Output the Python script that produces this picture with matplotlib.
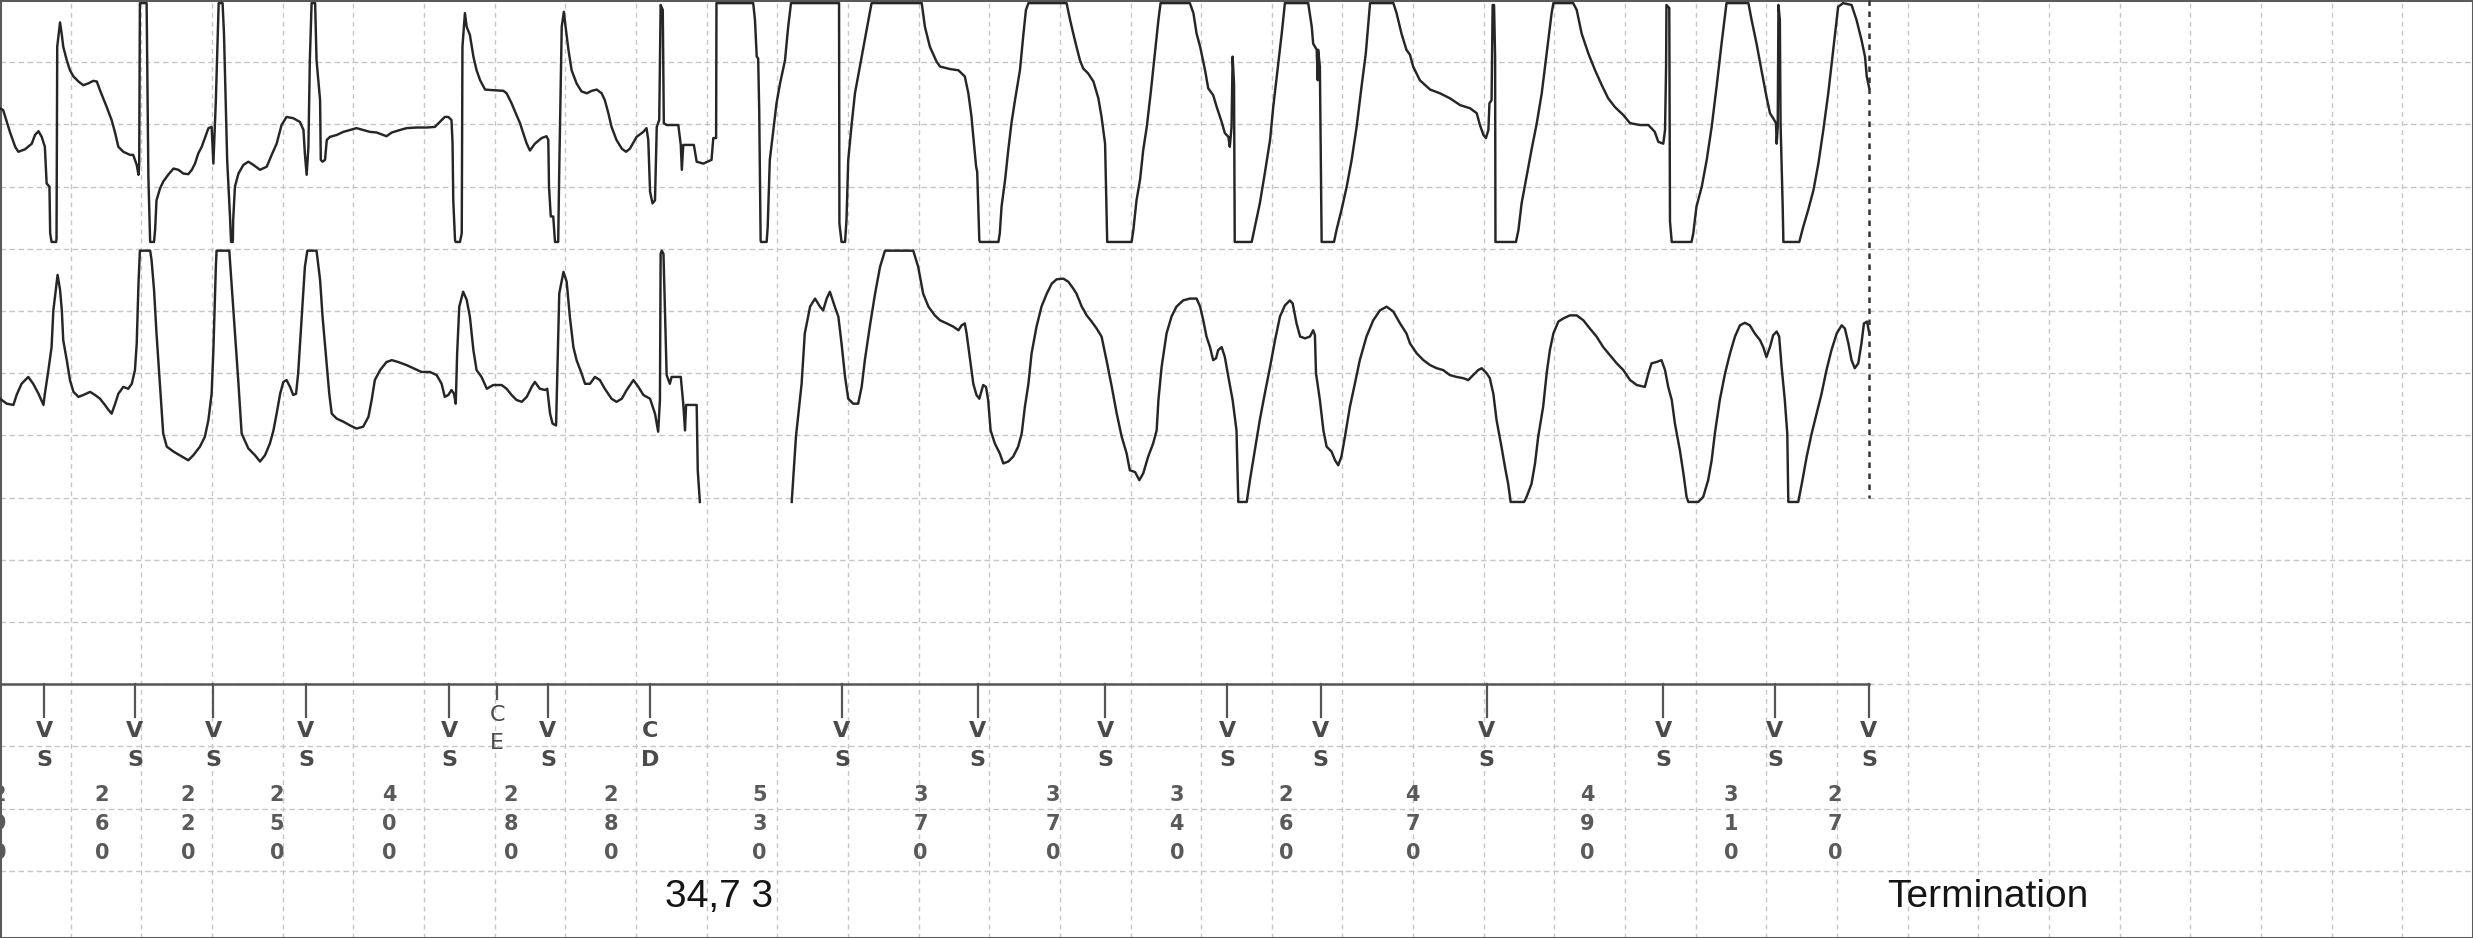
import numpy as np
import matplotlib
matplotlib.use("Agg")
import matplotlib.pyplot as plt

# stored ICD episode: two EGM channels + marker channel
# time in ms (200 ms per grid division), amplitude in grid divisions (positive up)
MS_PER_DIV = 200

EGM1_T = [0, 9, 28, 43, 52, 71, 90, 99, 109, 118, 127, 132, 140, 142, 146, 159, 160, 162, 170, 175,
          179, 189, 198, 208, 222, 236, 250, 264, 274, 283, 302, 316, 326, 335, 349, 368, 377, 382, 387, 392,
          394, 396, 415, 420, 425, 436, 439, 443, 453, 462, 476, 491, 505, 519, 533, 543, 552, 561, 571, 580,
          590, 599, 604, 611, 619, 630, 634, 643, 651, 654, 659, 660, 665, 675, 689, 703, 717, 736, 755, 769,
          783, 797, 811, 830, 849, 859, 863, 868, 873, 877, 882, 892, 896, 906, 908, 913, 920, 925, 934, 953,
          972, 991, 1009, 1028, 1047, 1066, 1085, 1094, 1109, 1132, 1151, 1179, 1208, 1231, 1245, 1259, 1269, 1278, 1281, 1283,
          1288, 1290, 1302, 1307, 1309, 1316, 1321, 1330, 1340, 1349, 1359, 1373, 1396, 1425, 1434, 1448, 1462, 1472, 1481, 1491,
          1500, 1514, 1533, 1547, 1552, 1554, 1559, 1566, 1571, 1580, 1583, 1590, 1596, 1602, 1609, 1618, 1632, 1646, 1661, 1675,
          1689, 1703, 1712, 1722, 1731, 1745, 1760, 1772, 1783, 1802, 1821, 1830, 1835, 1840, 1847, 1854, 1859, 1866, 1870, 1876,
          1879, 1887, 1920, 1927, 1930, 1934, 1964, 1972, 1991, 2014, 2019, 2027, 2028, 2132, 2137, 2142, 2146, 2149, 2153, 2154,
          2170, 2173, 2179, 2189, 2198, 2208, 2222, 2231, 2239, 2375, 2376, 2382, 2392, 2396, 2401, 2411, 2420, 2434, 2448, 2467,
          2609, 2618, 2632, 2651, 2661, 2689, 2713, 2731, 2741, 2750, 2755, 2763, 2766, 2772, 2774, 2826, 2830, 2835, 2845, 2854,
          2863, 2873, 2887, 2897, 2904, 2911, 3019, 3029, 3038, 3047, 3057, 3066, 3080, 3095, 3109, 3118, 3128, 3132, 3134, 3203,
          3208, 3217, 3227, 3236, 3246, 3257, 3269, 3279, 3285, 3368, 3378, 3387, 3397, 3411, 3420, 3434, 3444, 3458, 3467, 3477,
          3481, 3486, 3489, 3493, 3495, 3543, 3552, 3566, 3580, 3595, 3604, 3615, 3628, 3637, 3703, 3713, 3717, 3727, 3730, 3731,
          3736, 3741, 3776, 3783, 3797, 3812, 3826, 3840, 3854, 3866, 3878, 3944, 3953, 3967, 3981, 3991, 4000, 4019, 4048, 4076,
          4104, 4133, 4161, 4180, 4189, 4199, 4206, 4213, 4216, 4222, 4225, 4229, 4232, 4233, 4291, 4298, 4307, 4321, 4335, 4350,
          4364, 4378, 4392, 4397, 4453, 4463, 4477, 4496, 4515, 4534, 4552, 4571, 4595, 4614, 4642, 4666, 4684, 4694, 4708, 4713,
          4716, 4717, 4725, 4727, 4732, 4788, 4793, 4802, 4817, 4831, 4845, 4859, 4873, 4887, 4949, 4958, 4972, 4986, 5000, 5010,
          5019, 5027, 5029, 5032, 5034, 5038, 5040, 5046, 5048, 5093, 5104, 5118, 5133, 5147, 5161, 5175, 5189, 5203, 5217, 5241,
          5255, 5269, 5279, 5284, 5291]
EGM1_A = [0.23, 0.20, -0.15, -0.39, -0.47, -0.43, -0.34, -0.20, -0.14, -0.23, -0.39, -0.98, -1.03, -1.78, -1.92, -1.92, -1.86, 1.22, 1.61, 1.41,
          1.22, 1.00, 0.84, 0.74, 0.66, 0.60, 0.63, 0.67, 0.66, 0.52, 0.25, 0.04, -0.17, -0.39, -0.47, -0.52, -0.52, -0.60, -0.68, -0.84,
          -0.66, 1.92, 1.92, -0.87, -1.92, -1.92, -1.73, -1.25, -1.06, -0.95, -0.84, -0.74, -0.76, -0.82, -0.83, -0.76, -0.66, -0.50, -0.39, -0.25,
          -0.09, -0.07, -0.66, 0.36, 1.92, 1.92, 1.43, -0.60, -1.51, -1.92, -1.92, -1.57, -1.03, -0.82, -0.68, -0.63, -0.68, -0.76, -0.71, -0.52,
          -0.34, -0.04, 0.09, 0.07, 0.01, -0.12, -0.50, -0.84, -0.39, 1.00, 1.92, 1.92, 1.00, 0.36, -0.60, -0.63, -0.60, -0.28, -0.23, -0.20,
          -0.15, -0.12, -0.09, -0.12, -0.15, -0.16, -0.20, -0.22, -0.16, -0.12, -0.09, -0.08, -0.08, -0.07, 0.01, 0.09, 0.09, 0.04, -0.34, -1.25,
          -1.89, -1.92, -1.92, -1.78, 1.22, 1.76, 1.54, 1.41, 1.06, 0.84, 0.68, 0.53, 0.52, 0.51, 0.47, 0.31, 0.12, -0.01, -0.17, -0.34,
          -0.45, -0.34, -0.25, -0.22, -0.28, -1.03, -1.51, -1.51, -1.92, -1.92, -0.76, 1.54, 1.78, 1.49, 1.17, 0.84, 0.63, 0.50, 0.47, 0.51,
          0.53, 0.47, 0.36, 0.15, -0.07, -0.28, -0.42, -0.47, -0.42, -0.23, -0.15, -0.09, -0.28, -1.11, -1.30, -1.25, -0.07, 0.04, 1.89, 1.81,
          -0.01, -0.04, -0.04, -0.36, -0.76, -0.36, -0.36, -0.63, -0.66, -0.60, -0.25, -0.25, 1.92, 1.92, 1.65, 1.06, 1.03, 0.20, -1.89, -1.92,
          -1.92, -1.68, -0.60, -0.12, 0.31, 0.63, 1.00, 1.54, 1.92, 1.92, -1.62, -1.92, -1.92, -1.57, -0.60, -0.01, 0.47, 0.90, 1.33, 1.92,
          1.92, 1.54, 1.22, 0.98, 0.90, 0.86, 0.84, 0.74, 0.47, 0.09, -0.23, -0.71, -0.79, -1.89, -1.92, -1.92, -1.78, -1.35, -0.92, -0.44,
          -0.01, 0.36, 0.84, 1.43, 1.81, 1.92, 1.92, 1.65, 1.43, 1.22, 1.00, 0.87, 0.79, 0.66, 0.39, 0.09, -0.34, -1.35, -1.92, -1.92,
          -1.73, -1.25, -0.92, -0.44, -0.07, 0.47, 1.11, 1.65, 1.92, 1.92, 1.76, 1.43, 1.22, 0.84, 0.55, 0.44, 0.25, 0.01, -0.17, -0.23,
          -0.39, -0.07, 1.06, 0.63, -1.92, -1.92, -1.68, -1.30, -0.82, -0.28, 0.25, 0.79, 1.43, 1.92, 1.92, 1.54, 1.27, 1.17, 0.68, 1.17,
          0.90, -1.92, -1.92, -1.73, -1.41, -1.03, -0.60, -0.07, 0.58, 1.11, 1.92, 1.92, 1.76, 1.43, 1.17, 1.09, 0.90, 0.68, 0.53, 0.47,
          0.39, 0.28, 0.23, 0.15, -0.04, -0.20, -0.25, -0.12, 0.31, 0.36, 1.89, 1.89, 1.06, -1.92, -1.92, -1.73, -1.30, -0.87, -0.44, -0.01,
          0.47, 1.11, 1.76, 1.92, 1.92, 1.81, 1.43, 1.11, 0.84, 0.60, 0.39, 0.25, 0.12, -0.01, -0.04, -0.04, -0.15, -0.31, -0.34, -0.12,
          0.90, 1.89, 1.84, -1.59, -1.92, -1.92, -1.78, -1.35, -1.03, -0.60, -0.07, 0.58, 1.27, 1.92, 1.92, 1.65, 1.27, 0.84, 0.42, 0.15,
          0.07, -0.01, -0.34, -0.07, 1.89, 1.65, -0.01, -1.35, -1.92, -1.92, -1.68, -1.41, -1.09, -0.66, -0.12, 0.47, 1.17, 1.86, 1.92, 1.89,
          1.65, 1.33, 1.06, 0.74, 0.55]

EGM2_T = [0, 19, 38, 47, 61, 80, 94, 109, 123, 127, 137, 146, 151, 163, 170, 175, 179, 189, 198, 208,
          222, 236, 255, 269, 283, 297, 307, 316, 326, 335, 349, 363, 373, 382, 387, 392, 396, 425, 429, 436,
          443, 453, 462, 472, 491, 509, 533, 547, 566, 580, 590, 599, 604, 611, 613, 649, 656, 665, 675, 684,
          703, 722, 736, 750, 764, 774, 783, 793, 802, 811, 821, 830, 838, 844, 854, 863, 870, 896, 906, 913,
          923, 932, 939, 953, 972, 991, 1009, 1028, 1043, 1052, 1061, 1076, 1094, 1109, 1127, 1151, 1170, 1193, 1217, 1236,
          1250, 1259, 1269, 1278, 1285, 1290, 1294, 1300, 1311, 1321, 1330, 1340, 1349, 1363, 1378, 1396, 1420, 1434, 1448, 1462,
          1477, 1491, 1505, 1514, 1528, 1543, 1549, 1557, 1564, 1574, 1578, 1583, 1595, 1604, 1613, 1623, 1632, 1646, 1656, 1670,
          1684, 1698, 1712, 1731, 1745, 1760, 1774, 1793, 1807, 1821, 1840, 1854, 1863, 1868, 1870, 1873, 1878, 1887, 1896, 1901,
          1927, 1934, 1939, 1942, 1972, 1975, 1981, 2100, 2241, 2245, 2253, 2260, 2269, 2278, 2293, 2307, 2321, 2330, 2340, 2349,
          2363, 2373, 2382, 2392, 2401, 2415, 2429, 2439, 2448, 2462, 2477, 2491, 2505, 2585, 2599, 2613, 2628, 2646, 2661, 2680,
          2698, 2713, 2722, 2731, 2736, 2746, 2755, 2764, 2772, 2779, 2783, 2791, 2797, 2804, 2816, 2830, 2840, 2854, 2868, 2882,
          2892, 2901, 2911, 2920, 2934, 2948, 2963, 2977, 2991, 3010, 3024, 3038, 3047, 3062, 3076, 3090, 3104, 3118, 3132, 3147,
          3161, 3175, 3189, 3198, 3213, 3225, 3236, 3250, 3264, 3274, 3279, 3288, 3302, 3316, 3330, 3349, 3368, 3387, 3397, 3406,
          3415, 3425, 3434, 3442, 3448, 3458, 3467, 3477, 3489, 3500, 3505, 3529, 3538, 3552, 3566, 3580, 3595, 3609, 3623, 3637,
          3651, 3659, 3670, 3680, 3694, 3708, 3717, 3722, 3725, 3736, 3746, 3755, 3769, 3779, 3788, 3797, 3807, 3821, 3835, 3849,
          3868, 3887, 3906, 3925, 3944, 3963, 3981, 3991, 4010, 4029, 4048, 4067, 4085, 4104, 4123, 4142, 4156, 4170, 4184, 4194,
          4208, 4217, 4227, 4236, 4250, 4260, 4269, 4276, 4314, 4321, 4335, 4345, 4354, 4368, 4378, 4387, 4397, 4411, 4425, 4444,
          4463, 4482, 4500, 4519, 4538, 4557, 4576, 4595, 4614, 4633, 4656, 4666, 4675, 4689, 4703, 4713, 4722, 4732, 4741, 4755,
          4765, 4774, 4779, 4807, 4821, 4835, 4845, 4854, 4868, 4883, 4897, 4911, 4925, 4939, 4953, 4967, 4982, 4991, 5000, 5010,
          5019, 5029, 5036, 5043, 5052, 5059, 5062, 5090, 5100, 5114, 5128, 5142, 5156, 5170, 5184, 5199, 5213, 5222, 5232, 5241,
          5250, 5260, 5269, 5276, 5285, 5291]
EGM2_A = [-0.36, -0.44, -0.46, -0.30, -0.12, -0.01, -0.12, -0.28, -0.46, -0.28, 0.10, 0.47, 1.06, 1.63, 1.39, 1.06, 0.58, 0.26, -0.06, -0.25,
          -0.33, -0.30, -0.25, -0.30, -0.36, -0.46, -0.54, -0.60, -0.44, -0.28, -0.17, -0.20, -0.12, 0.10, 0.53, 1.49, 2.02, 2.02, 1.87, 1.39,
          0.69, -0.17, -0.92, -1.13, -1.21, -1.27, -1.35, -1.27, -1.13, -0.97, -0.70, -0.28, 0.42, 1.76, 2.02, 2.02, 1.44, 0.69, -0.12, -0.92,
          -1.16, -1.27, -1.37, -1.27, -1.08, -0.87, -0.60, -0.28, -0.09, -0.06, -0.17, -0.30, -0.28, 0.05, 0.96, 1.76, 2.02, 2.02, 1.55, 0.96,
          0.31, -0.28, -0.60, -0.68, -0.73, -0.79, -0.84, -0.81, -0.65, -0.38, -0.06, 0.10, 0.23, 0.26, 0.23, 0.18, 0.13, 0.07, 0.07, 0.02,
          -0.12, -0.33, -0.30, -0.22, -0.28, -0.44, 0.37, 1.12, 1.36, 1.23, 0.96, 0.42, 0.10, -0.01, -0.20, -0.14, -0.14, -0.20, -0.30, -0.38,
          -0.41, -0.33, -0.17, -0.09, -0.20, -0.22, -0.20, -0.60, -0.76, -0.79, 0.15, 1.33, 1.68, 1.52, 0.96, 0.47, 0.26, 0.05, -0.12, -0.12,
          -0.01, -0.06, -0.20, -0.36, -0.41, -0.36, -0.22, -0.06, -0.17, -0.30, -0.36, -0.60, -0.89, -0.38, 1.97, 2.02, 1.97, 0.02, -0.12, -0.01,
          -0.01, -0.44, -0.87, -0.46, -0.46, -1.51, -2.02, np.nan, -2.02, -1.67, -0.97, -0.60, -0.12, 0.69, 1.12, 1.25, 1.12, 1.06, 1.25, 1.36,
          1.12, 0.96, 0.53, -0.01, -0.36, -0.44, -0.44, -0.17, 0.26, 0.80, 1.33, 1.76, 2.02, 2.02, 1.76, 1.33, 1.12, 0.98, 0.90, 0.85,
          0.80, 0.74, 0.82, 0.85, 0.69, 0.26, -0.12, -0.30, -0.36, -0.22, -0.14, -0.17, -0.38, -0.87, -1.08, -1.24, -1.40, -1.37, -1.29, -1.13,
          -0.92, -0.49, -0.12, 0.37, 0.80, 1.12, 1.33, 1.49, 1.56, 1.57, 1.52, 1.41, 1.33, 1.12, 0.98, 0.88, 0.77, 0.64, 0.26, -0.17,
          -0.60, -0.97, -1.24, -1.51, -1.54, -1.67, -1.56, -1.29, -1.08, -0.87, -0.38, 0.15, 0.69, 0.96, 1.12, 1.22, 1.25, 1.25, 1.12, 0.90,
          0.64, 0.47, 0.26, 0.29, 0.42, 0.47, 0.31, -0.01, -0.38, -0.87, -2.02, -2.02, -1.67, -1.19, -0.70, -0.28, 0.15, 0.58, 0.96, 1.14,
          1.22, 1.17, 0.85, 0.64, 0.61, 0.64, 0.74, 0.66, 0.05, -0.38, -0.87, -1.13, -1.21, -1.35, -1.43, -1.29, -0.97, -0.49, -0.12, 0.26,
          0.64, 0.90, 1.06, 1.12, 1.04, 0.85, 0.69, 0.53, 0.37, 0.26, 0.18, 0.13, 0.10, 0.02, -0.01, -0.03, -0.06, 0.02, 0.10, 0.13,
          0.05, -0.03, -0.28, -0.70, -1.13, -1.46, -1.73, -2.02, -2.02, -1.94, -1.73, -1.40, -0.97, -0.49, 0.05, 0.42, 0.69, 0.88, 0.93, 0.98,
          0.98, 0.90, 0.77, 0.64, 0.47, 0.34, 0.21, 0.10, -0.06, -0.14, -0.17, 0.05, 0.21, 0.23, 0.26, 0.10, -0.17, -0.38, -0.76, -1.19,
          -1.56, -1.94, -2.02, -2.02, -1.94, -1.67, -1.35, -0.92, -0.38, 0.05, 0.37, 0.64, 0.82, 0.86, 0.82, 0.69, 0.58, 0.47, 0.31, 0.47,
          0.66, 0.72, 0.64, 0.15, -0.38, -0.92, -2.02, -2.02, -1.73, -1.29, -0.92, -0.60, -0.28, 0.10, 0.42, 0.69, 0.82, 0.77, 0.53, 0.26,
          0.13, 0.21, 0.53, 0.85, 0.88, 0.69]

# marker channel
MARK_T = [125, 382, 604, 866, 1272, 1407, 1551, 1840, 2383, 2767, 3128, 3474, 3738, 4208, 4708, 5024, 5290]
MARK_CODE = ["VS", "VS", "VS", "VS", "VS", "CE", "VS", "CD", "VS", "VS", "VS", "VS", "VS", "VS", "VS", "VS", "VS"]
INTERVAL_T = [-3, 289, 532, 784, 1101, 1446, 1729, 2150, 2606, 2980, 3331, 3640, 3999, 4493, 4900, 5194]
INTERVAL_MS = [290, 260, 220, 250, 400, 280, 280, 530, 370, 370, 340, 260, 470, 490, 310, 270]
TERMINATION_T = 5290

# layout in grid rows from the top
ROW_EGM1, ROW_EGM2, ROW_MARK = 1.97, 6.05, 11.0
N_COLS, N_ROWS = 35, 15.08

GRID = "#c6c6c6"
INK = "#262626"

fig = plt.figure(figsize=(24.73, 9.38), dpi=100)
ax = fig.add_axes([0, 0, 1, 1])
ax.set_xlim(0, N_COLS * MS_PER_DIV)
ax.set_ylim(N_ROWS, 0)
ax.set_xticks([])
ax.set_yticks([])
for s in ax.spines.values():
    s.set_color("#5a5a5a")
    s.set_linewidth(2.2)

# dashed paper grid
for k in range(1, N_COLS):
    ax.axvline(k * MS_PER_DIV, color=GRID, lw=1.0, ls=(0, (3.5, 3.0)), zorder=0)
for r in range(1, 15):
    ax.axhline(r, color=GRID, lw=1.0, ls=(0, (4.0, 2.5)), zorder=0)

# electrograms
ax.plot(EGM1_T, ROW_EGM1 - np.array(EGM1_A), color=INK, lw=1.75, zorder=3)
ax.plot(EGM2_T, ROW_EGM2 - np.array(EGM2_A), color=INK, lw=1.75, zorder=3)

# termination marker
ax.plot([TERMINATION_T, TERMINATION_T], [0, 8.0], color="#333333", lw=1.8,
        ls=(0, (2.2, 2.2)), zorder=4)

# marker channel
ax.plot([0, MARK_T[-1]], [ROW_MARK, ROW_MARK], color="#555555", lw=1.8, zorder=4)
for t, code in zip(MARK_T, MARK_CODE):
    tick = 0.23 if code == "CE" else 0.53
    ax.plot([t, t], [ROW_MARK, ROW_MARK + tick], color="#555555", lw=1.6, zorder=4)
    r1, r2 = (11.5, 11.95) if code == "CE" else (11.76, 12.22)
    weight = "normal" if code == "CE" else "bold"
    for ch, r in zip(code, (r1, r2)):
        ax.text(t, r, ch, ha="center", va="center", fontsize=16, fontweight=weight,
                family="DejaVu Sans", color="#4a4a4a", zorder=5)

for t, val in zip(INTERVAL_T, INTERVAL_MS):
    for ch, r in zip(str(val), (12.78, 13.24, 13.71)):
        ax.text(t, r, ch, ha="center", va="center", fontsize=15, fontweight="bold",
                family="DejaVu Sans", color="#5a5a5a", zorder=5, clip_on=True)

ax.text(1882, 14.58, "34,7 3", ha="left", va="baseline", fontsize=28,
        family=["Liberation Sans", "DejaVu Sans"], color="#151515")
ax.text(5341, 14.58, "Termination", ha="left", va="baseline", fontsize=28,
        family=["Liberation Sans", "DejaVu Sans"], color="#151515")

fig.savefig("out.png", dpi=100)
plt.close(fig)
